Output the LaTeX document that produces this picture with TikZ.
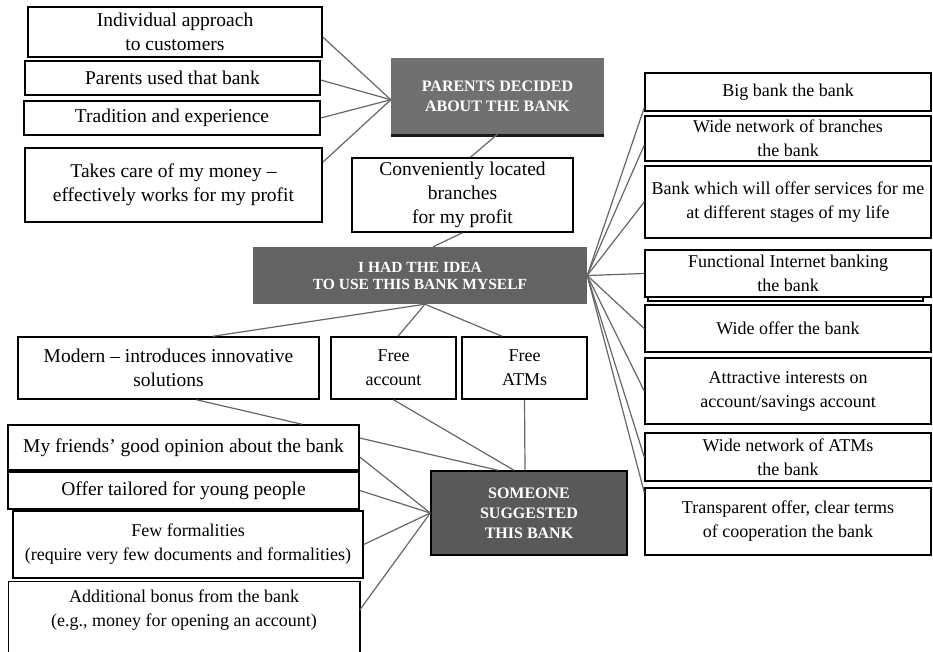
\documentclass[tikz,border=0pt]{standalone}
\usepackage{fontspec}
\setmainfont{Liberation Serif}
\usetikzlibrary{shadows}

\begin{document}
\begin{tikzpicture}[x=1pt, y=-1pt,
    main node/.style={draw, line width=1.5pt, fill=white, align=center, inner sep=1pt, font=\fontsize{19.5}{24}\selectfont},
    small node/.style={main node, font=\fontsize{18}{24}\selectfont},
    dark node/.style={fill=black!61, text=white, align=center, inner sep=1pt, font=\bfseries\fontsize{16}{20}\selectfont},
    box size/.style 2 args={minimum width=#1pt, minimum height=#2pt},
    link/.style={draw=black!60, line width=1.2pt}]

    \useasboundingbox (0,0) rectangle (933,651);

    % parents decided
    \node[main node, box size={294}{50}] (1) at (175,32) {Individual approach\\to customers};
    \node[main node, box size={295}{34}] (2) at (172.5,78) {Parents used that bank};
    \node[main node, box size={296}{34}] (3) at (172,118) {Tradition and  experience};
    \node[main node, box size={297}{74}] (4) at (173.5,185) {Takes care of my money –\\effectively works for my profit};
    \node[dark node, fill=black!56, box size={213}{76}, drop shadow={shadow xshift=0pt, shadow yshift=-3pt, fill=black, opacity=0.9}] (5) at (497.5,96) {PARENTS DECIDED\\ABOUT THE BANK};

    % own idea
    \node[main node, box size={221}{74}] (6) at (462.5,195) {Conveniently located\\branches\\for my profit};
    \node[dark node, box size={334}{57}, font=\bfseries\fontsize{15.5}{17}\selectfont] (7) at (420,275.5) {I HAD THE IDEA\\TO USE THIS BANK MYSELF};

    \node[small node, box size={286}{38}] (8) at (788,92) {Big bank the bank};
    \node[small node, box size={286}{45}] (9) at (788,138.5) {Wide network of branches\\the bank};
    \node[small node, box size={286}{72}] (10) at (788,202) {Bank which will offer services for me\\at different stages of my life};
    \draw[line width=1.2pt] (648,255) rectangle (923,301);
    \node[small node, box size={286}{47}] (11) at (788,273.5) {Functional Internet banking\\the bank};
    \node[small node, box size={286}{47}] (12) at (788,328.5) {Wide offer the bank};
    \node[small node, box size={286}{66}] (13) at (788,391) {Attractive interests on\\account/savings account};
    \node[small node, box size={286}{48}] (14) at (788,457) {Wide network of ATMs\\the bank};
    \node[small node, box size={286}{67}] (15) at (788,521.5) {Transparent offer, clear terms\\of cooperation the bank};

    \node[main node, box size={301}{62}] (16) at (168.5,368) {Modern – introduces innovative\\solutions};
    \node[small node, box size={125}{62}] (17) at (393.5,368) {Free\\account};
    \node[small node, box size={125}{62}] (18) at (524.5,368) {Free\\ATMs};

    % someone suggested
    \node[main node, box size={351}{45}] (19) at (183.5,447.5) {My friends’ good opinion about the bank};
    \node[main node, box size={351}{37}] (20) at (183.5,490.5) {Offer tailored for young people};
    \node[small node, box size={350}{67}] (21) at (188,544.5) {Few formalities\\(require very few documents and formalities)};
    \node[small node, draw=none, box size={350}{56}] (22) at (184,610) {Additional bonus from the bank\\(e.g., money for opening an account)};
    \draw[line width=1.5pt] ([yshift=-25pt]22.south west) |- (22.north east) -- ([yshift=-25pt]22.south east);
    \node[dark node, fill=black!65, draw=black, line width=1.5pt, box size={196}{84}] (23) at (529,513) {SOMEONE\\SUGGESTED\\THIS BANK};

    % parents links
    \draw[link] ([yshift=-5pt]1.east) -- (5.182);
    \draw[link] ([yshift=-2pt]2.east) -- (5.182);
    \draw[link] (3.east) -- (5.182);
    \draw[link] ([yshift=-15pt]4.north east) -- (5.182);
    \draw[link] (5.south) -- ([xshift=8pt]6.north);

    % idea links
    \draw[link] (6.south) -- ([xshift=13pt]7.north);
    \draw[link] ([xshift=5pt]7.south) -- ([xshift=44.5pt]16.north);
    \draw[link] ([xshift=5pt]7.south) -- ([xshift=4.5pt]17.north);
    \draw[link] ([xshift=5pt]7.south) -- ([xshift=-22.5pt]18.north);
    \draw[link] (7.east) -- ([yshift=4pt]8.south west);
    \draw[link] (7.east) -- ([yshift=-6.5pt]9.west);
    \draw[link] (7.east) -- (10.west);
    \draw[link] (7.east) -- (11.west);
    \draw[link] (7.east) -- (12.west);
    \draw[link] (7.east) -- (13.west);
    \draw[link] (7.east) -- (14.west);
    \draw[link] (7.east) -- ([yshift=-5pt]15.north west);

    % someone links
    \draw[link] ([xshift=28pt]16.south) -- ([xshift=118.5pt]19.north);
    \draw[link] (17.south) -- ([xshift=-15pt]23.north);
    \draw[link] (18.south) -- ([xshift=-4pt]23.north);
    \draw[link] ([yshift=9.5pt]19.east) -- ([xshift=-31pt]23.north);
    \draw[link] ([yshift=-9.5pt]19.east) -- (23.west);
    \draw[link] (20.east) -- (23.west);
    \draw[link] (21.east) -- (23.west);
    \draw[link] (22.east) -- (23.west);

\end{tikzpicture}
\end{document}
